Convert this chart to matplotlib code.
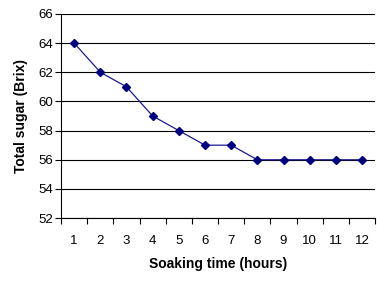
import matplotlib
matplotlib.use("Agg")
import matplotlib.pyplot as plt
from matplotlib.ticker import FixedLocator

# soaking time (hours) vs total sugar (Brix)
hours = [1, 2, 3, 4, 5, 6, 7, 8, 9, 10, 11, 12]
sugar = [64, 62, 61, 59, 58, 57, 57, 56, 56, 56, 56, 56]
y_ticks = [52, 54, 56, 58, 60, 62, 64, 66]

plt.rcParams['font.family'] = ['Liberation Sans', 'DejaVu Sans']

fig = plt.figure(figsize=(3.77, 2.84), dpi=100)
ax = fig.add_axes([0.162, 0.232, 0.833, 0.719])

ax.plot(hours, sugar, color='#1a1a8c', lw=0.9, marker='D', ms=4,
        markerfacecolor='#000080', markeredgecolor='#000080', zorder=3)

ax.set_xlim(0.5, 12.5)
ax.set_ylim(52, 66)
ax.set_yticks(y_ticks)
ax.set_xticks(hours)
# Excel-style category axis: ticks sit between the categories
ax.xaxis.set_minor_locator(FixedLocator([h + 0.5 for h in range(0, 13)]))
ax.tick_params(axis='x', which='major', length=0, pad=12, labelsize=9.5)
ax.tick_params(axis='x', which='minor', length=4, width=0.8, direction='out')
ax.tick_params(axis='y', length=4, width=0.8, direction='out', labelsize=9.5, pad=2)

ax.grid(axis='y', color='black', lw=0.8)
ax.spines['top'].set_visible(False)
ax.spines['right'].set_visible(False)
ax.spines['left'].set_linewidth(0.8)
ax.spines['bottom'].set_linewidth(0.8)
ax.set_axisbelow(True)

ax.set_xlabel("Soaking time (hours)", fontweight='bold', fontsize=10, labelpad=7)
ax.set_ylabel("Total sugar (Brix)", fontweight='bold', fontsize=10, labelpad=7)

fig.savefig("out.png", dpi=100)
